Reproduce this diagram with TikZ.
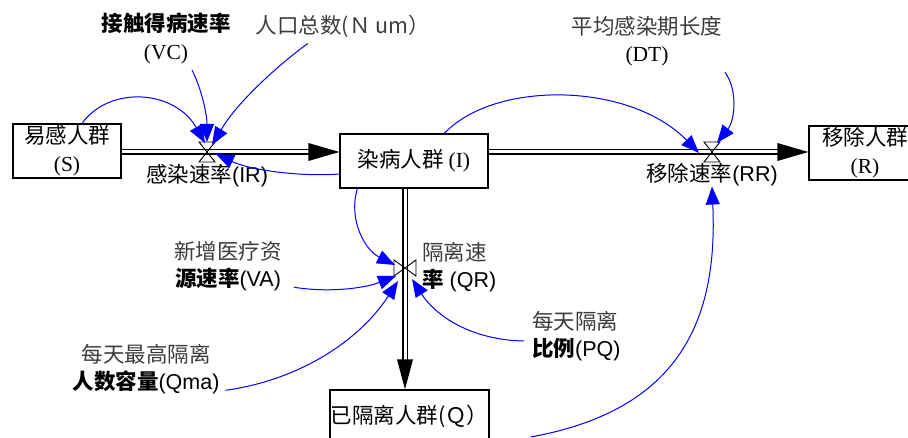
\documentclass[tikz,border=0pt]{standalone}
\usepackage{fontspec}
\setmainfont{Liberation Serif}
\newfontfamily\cjk{Noto Sans CJK SC}
\newfontfamily\lsans{Liberation Sans}
\usetikzlibrary{arrows.meta,calc}
\definecolor{txtgray}{RGB}{60,60,60}
\definecolor{linkblue}{RGB}{0,0,255}
\tikzset{
  box/.style={draw, line width=1.3pt, inner sep=0pt, align=center, font=\fontsize{21.5}{28}\selectfont},
  lbl/.style={inner sep=0pt, align=center, font=\fontsize{21.5}{27.5}\selectfont},
  pipe/.style={draw, double distance=3pt, line width=1.4pt},
  link/.style={draw=linkblue, line width=1pt, -{Triangle[length=18pt,width=14pt]}},
  valve/.style={draw, line width=0.9pt},
}
\begin{document}
\begin{tikzpicture}[x=1pt,y=-1pt]
\useasboundingbox (0,0) rectangle (908,438);
\clip (0,0) rectangle (908,438);

% stocks
\node[box, minimum width=108, minimum height=54] (S) at (67,151) {\cjk 易感人群\\\rmfamily (S)};
\node[box, minimum width=148, minimum height=54] (I) at (414,161) {\cjk 染病人群 \rmfamily(I)};
\node[box, minimum width=112, minimum height=54] (R) at (865,153) {\cjk 移除人群\\\rmfamily (R)};
\node[box, minimum width=159, minimum height=52] (Q) at (409.5,416) {\cjk 已隔离人群(Ｑ）};

% valves
\coordinate (IRv) at (207,152);
\coordinate (RRv) at (712,152);
\coordinate (QRv) at (405,268);

% pipes
\draw[pipe] (S.east |- IRv) -- ($(I.west |- IRv)+(-29,0)$);
\fill ($(I.west |- IRv)$) -- ++(-31,-9) -- ++(0,18) -- cycle;
\draw[pipe] (I.east |- RRv) -- ($(R.west |- RRv)+(-29,0)$);
\fill ($(R.west |- RRv)$) -- ++(-31,-9) -- ++(0,18) -- cycle;
\draw[pipe] (QRv |- I.south) -- ($(QRv |- Q.north)+(0,-28)$);
\fill ($(QRv |- Q.north)$) -- ++(-8,-30) -- ++(16,0) -- cycle;

\draw[valve] ($(IRv)+(-8,-10)$) -- ($(IRv)+(8,-10)$) -- ($(IRv)+(-8,10)$) -- ($(IRv)+(8,10)$) -- cycle;
\draw[valve] ($(RRv)+(-8,-10)$) -- ($(RRv)+(8,-10)$) -- ($(RRv)+(-8,10)$) -- ($(RRv)+(8,10)$) -- cycle;
\draw[valve] ($(QRv)+(-11,-8)$) -- ($(QRv)+(-11,8)$) -- ($(QRv)+(11,-8)$) -- ($(QRv)+(11,8)$) -- cycle;

% labels
\node[lbl] (IRl) at (207,176) {\cjk 感染速率\lsans(IR)};
\node[lbl] (RRl) at (712,175) {\cjk 移除速率\lsans(RR)};
\node[lbl] (VC) at (166,38.5) {{\cjk\bfseries 接触得病速率}\\{\rmfamily (VC)}};
\node[lbl] (Num) at (343,26) {\color{txtgray}\cjk 人口总数(Ｎ um）};
\node[lbl] (DT) at (647,41) {{\color{txtgray}\cjk 平均感染期长度}\\{\rmfamily (DT)}};
\node[lbl] (VA) at (228,266) {{\color{txtgray}\cjk 新增医疗资}\\{\cjk\bfseries 源速率}{\lsans(VA)}};
\node[lbl] (Qma) at (146,369) {{\color{txtgray}\cjk 每天最高隔离}\\{\cjk\bfseries 人数容量}{\lsans(Qma)}};
\node[lbl, align=left, anchor=west] (QRl) at (422,267) {{\color{txtgray}\cjk 隔离速}\\{\cjk\bfseries 率}{\lsans\ (QR)}};
\node[lbl, align=left, anchor=west] (PQ) at (532,336) {{\color{txtgray}\cjk 每天隔离}\\{\cjk\bfseries 比例}{\lsans(PQ)}};

% information links
\draw[link] ($(S.north)+(15,0)$) .. controls (110,85) and (175,90) .. ($(IRv)+(-2,-9)$);
\draw[link] ($(VC.south)+(26,6)$) .. controls (202,90) and (207,115) .. ($(IRv)+(0,-10)$);
\draw[link] ($(Num.south west)+(52,6)$) .. controls (285,60) and (240,98) .. ($(IRv)+(5,-7)$);
\draw[link] ($(I.west)+(0,13)$) .. controls (300,177) and (250,170) .. ($(IRv)+(9,2)$);
\draw[link] ($(I.north west)+(105,0)$) .. controls (495,80) and (630,82) .. ($(RRv)+(-13,1)$);
\draw[link] ($(DT.south)+(78,6)$) .. controls (738,90) and (735,120) .. ($(RRv)+(5,-9)$);
\draw[link] ($(Q.east)+(41,21)$) .. controls (680,410) and (718,320) .. (RRl.south -| RRv);
\draw[link] ($(I.south west)+(18,0)$) .. controls (348,220) and (365,250) .. ($(QRv)+(-10,-3)$);
\draw[link] ($(VA.south east)+(12,-4)$) .. controls (330,293) and (365,288) .. ($(QRv)+(-9,8)$);
\draw[link] ($(Qma.south east)+(6,-4)$) .. controls (300,380) and (360,340) .. ($(QRv)+(-7,13)$);
\draw[link] ($(PQ.west)+(-8,5)$) .. controls (470,340) and (435,315) .. ($(QRv)+(7,11)$);
\end{tikzpicture}
\end{document}
